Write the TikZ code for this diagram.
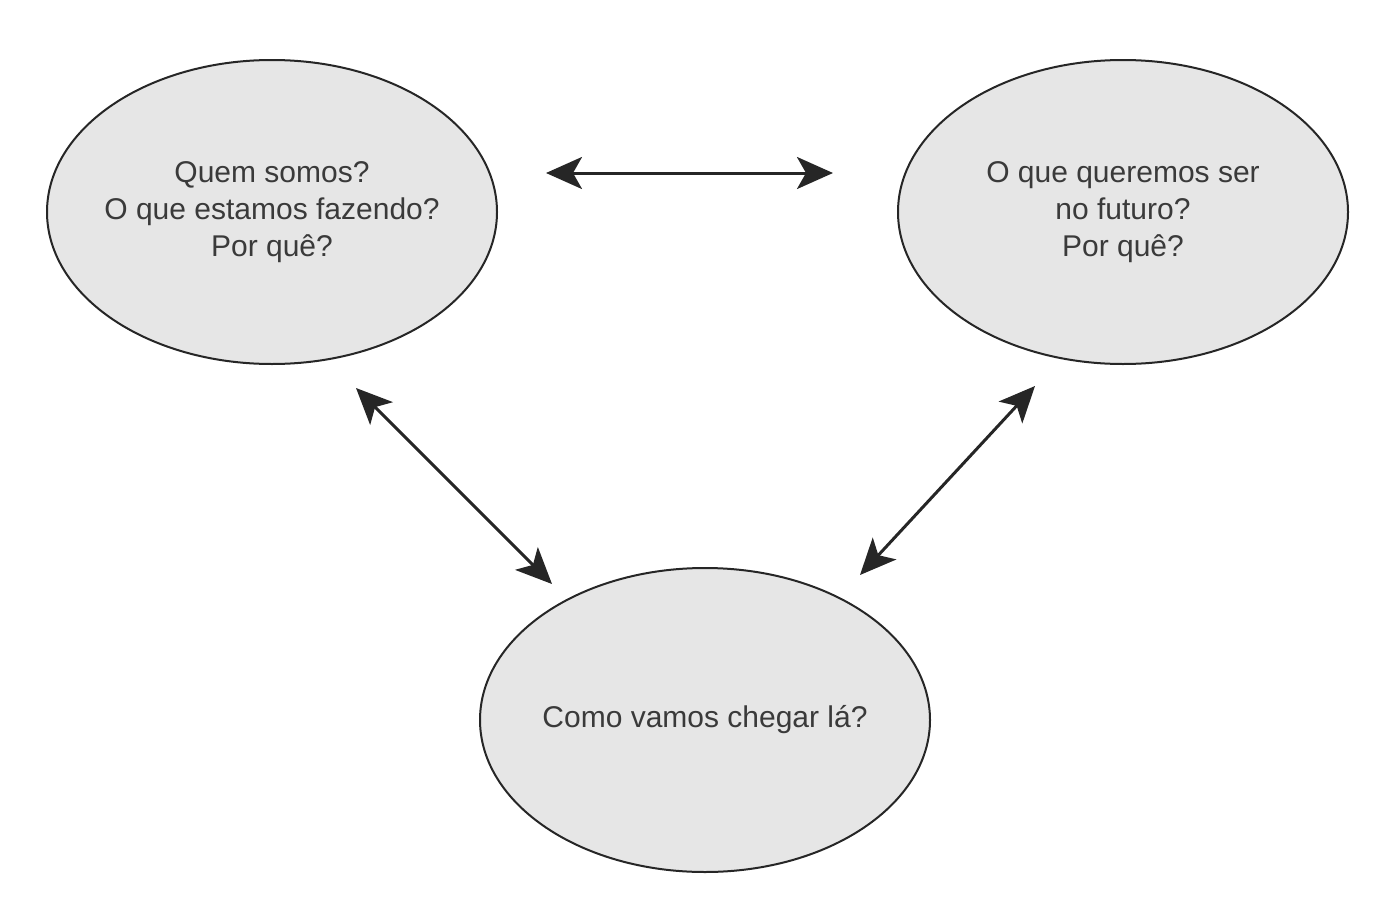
\documentclass[tikz,border=0pt]{standalone}
\usepackage{fontspec}
\setmainfont{Liberation Sans}
\usetikzlibrary{shapes.geometric,arrows.meta}
\definecolor{ellfill}{HTML}{E6E6E6}
\definecolor{txt}{HTML}{3A3A3A}
\begin{document}
\begin{tikzpicture}[x=1pt,y=-1pt,
  bubble/.style={ellipse,draw=black!85,line width=2pt,fill=ellfill,
    minimum width=450pt,minimum height=304pt,inner xsep=-25pt,inner ysep=0pt,
    text=txt,align=center,font=\fontsize{30}{37}\selectfont},
  link/.style={line width=3pt,draw=black!85,
    {Stealth[length=36pt,width=32pt,inset=9pt]}-{Stealth[length=36pt,width=32pt,inset=9pt]}}]
\useasboundingbox (0,0) rectangle (1400,913);
\node[bubble] (now) at (272,212) {Quem somos?\\O que estamos fazendo?\\Por quê?};
\node[bubble] (future) at (1123,212) {O que queremos ser\\no futuro?\\Por quê?};
\node[bubble] (how) at (705,720) {Como vamos chegar lá?};
\coordinate (t1) at (546,173);
\coordinate (t2) at (833,173);
\coordinate (l1) at (356,388);
\coordinate (l2) at (552,584);
\coordinate (r1) at (1035,386);
\coordinate (r2) at (860,575);
\draw[link] (t1) -- (t2);
\draw[link] (l1) -- (l2);
\draw[link] (r1) -- (r2);
\end{tikzpicture}
\end{document}
